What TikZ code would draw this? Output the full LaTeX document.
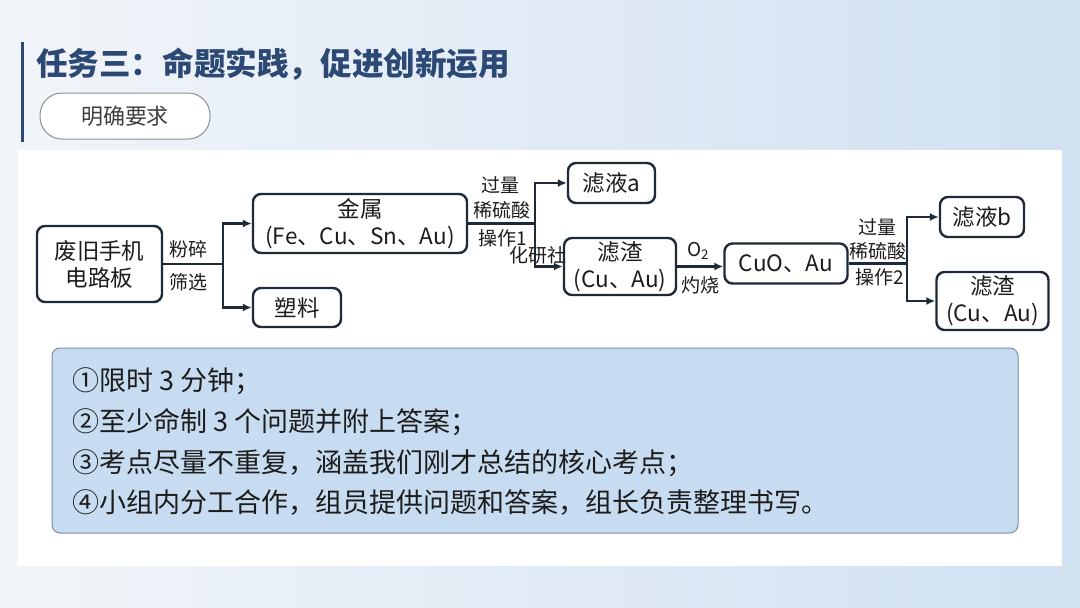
\documentclass[tikz,border=0pt]{standalone}
\usepackage{fontspec}
\setmainfont{Noto Sans CJK SC}
\usepackage{tikz}
\usetikzlibrary{arrows.meta, positioning, calc}
\definecolor{Slide_Light}{HTML}{F2F5F9}
\definecolor{Slide_Edge}{HTML}{D0E1F2}
\definecolor{Title_Blue}{HTML}{2C4874}
\definecolor{Box_Line}{HTML}{1E2A38}
\definecolor{Note_Fill}{HTML}{C7DCF0}
\definecolor{Note_Line}{HTML}{7D8EA2}
\definecolor{Pill_Line}{HTML}{8C9096}
\definecolor{Ink}{HTML}{1C1C1C}

\tikzset{
  flowbox/.style={draw=Box_Line, line width=2.4pt, rounded corners=8pt, fill=white,
    align=center, text=Ink, font=\fontsize{22.5}{27}\selectfont, inner sep=0pt},
  steplabel/.style={text=Ink, font=\fontsize{19}{22}\selectfont, inner sep=0pt},
  flowline/.style={draw=Box_Line, line width=2.4pt},
  flowarrow/.style={flowline, -{Latex[length=9pt,width=8pt]}},
  noteline/.style={anchor=west, text=Ink, font=\fontsize{27}{32}\selectfont, inner sep=0pt},
}

\begin{document}
\begin{tikzpicture}[x=1pt, y=-1pt]
    \useasboundingbox (0,0) rectangle (1080,608);

    % Slide background and white panel
    \shade[left color=Slide_Light, right color=Slide_Edge] (0,0) rectangle (1080,608);
    \fill[white] (18,150) rectangle (1062,566);

    % Title
    \draw[Title_Blue, line width=3pt] (22,42) -- (22,142);
    \node[anchor=west, inner sep=0pt, text=Title_Blue, font=\fontsize{31.6}{34}\selectfont\bfseries] (title) at (36,64) {任务三：命题实践，促进创新运用};
    \node[draw=Pill_Line, line width=1pt, fill=white, rounded corners=22pt, minimum width=170pt, minimum height=46pt,
          inner sep=0pt, text=Ink!85, font=\fontsize{22}{26}\selectfont] (req) at (125,116) {明确要求};

    % Flow chart boxes
    \node[flowbox, minimum width=125pt, minimum height=76pt] (board) at (99.5,264) {废旧手机\\电路板};
    \node[flowbox, minimum width=214pt, minimum height=59pt] (metal) at (360,223.5) {金属\\(Fe、Cu、Sn、Au)};
    \node[flowbox, minimum width=88pt, minimum height=39pt] (plastic) at (297,307.5) {塑料};
    \node[flowbox, minimum width=87pt, minimum height=40pt] (filtA) at (611.5,183) {滤液a};
    \node[flowbox, minimum width=112pt, minimum height=57pt] (slagA) at (620,266.5) {滤渣\\(Cu、Au)};
    \node[flowbox, minimum width=123pt, minimum height=40pt] (cuo) at (786,263.5) {CuO、Au};
    \node[flowbox, minimum width=84pt, minimum height=40pt] (filtB) at (982,217) {滤液b};
    \node[flowbox, minimum width=112pt, minimum height=58pt] (slagB) at (992.5,301) {滤渣\\(Cu、Au)};

    % Connectors
    \coordinate (split1) at (223,264);
    \coordinate (split2) at (535,223.5);
    \coordinate (split3) at (907,263.5);
    \draw[flowline] (board.east) -- (split1);
    \draw[flowarrow] (split1) |- (metal.west);
    \draw[flowarrow] (split1) |- (plastic.west);
    \draw[flowline] (metal.east) -- (split2);
    \draw[flowarrow] (split2) |- (filtA.west);
    \draw[flowarrow] (split2) |- (slagA.west);
    \draw[flowarrow] (slagA.east) -- (slagA.east -| cuo.west);
    \draw[flowline] (cuo.east) -- (split3);
    \draw[flowarrow] (split3) |- (filtB.west);
    \draw[flowarrow] (split3) |- (slagB.west);

    % Step labels
    \node[steplabel] (crush) at (188,249) {粉碎};
    \node[steplabel] (sieve) at (188,282) {筛选};
    \node[steplabel] (excessA) at (500,185) {过量};
    \node[steplabel] (acidA) at (502,210) {稀硫酸};
    \node[steplabel] (opA) at (503,238) {操作1};
    \node[steplabel] (mark) at (538,255) {化研社};
    \node[steplabel] (oxygen) at (698,251) {O\textsubscript{2}};
    \node[steplabel] (burn) at (700,285) {灼烧};
    \node[steplabel] (excessB) at (877,227) {过量};
    \node[steplabel] (acidB) at (878,251) {稀硫酸};
    \node[steplabel] (opB) at (880,277) {操作2};

    % Requirements box
    \draw[draw=Note_Line, line width=1pt, fill=Note_Fill, rounded corners=8pt] (52,348) rectangle (1018,533);
    \node[noteline] (rule1) at (72,381) {①限时 3 分钟；};
    \node[noteline] (rule2) at (72,422) {②至少命制 3 个问题并附上答案；};
    \node[noteline] (rule3) at (72,463) {③考点尽量不重复，涵盖我们刚才总结的核心考点；};
    \node[noteline] (rule4) at (72,503) {④小组内分工合作，组员提供问题和答案，组长负责整理书写。};
\end{tikzpicture}
\end{document}
